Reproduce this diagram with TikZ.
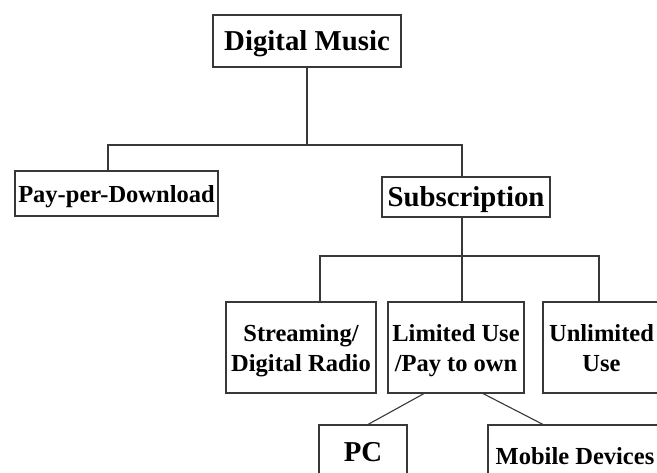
\documentclass[tikz,border=0pt]{standalone}
\usepackage{fontspec}
\setmainfont{Liberation Serif}
\begin{document}
\begin{tikzpicture}[x=1pt,y=-1pt,
  box/.style={draw=black!78, line width=1.1pt, fill=white, inner sep=0pt,
    text depth=0pt,
    font=\bfseries\fontsize{24.5}{30}\selectfont, align=center},
  bigbox/.style={box, font=\bfseries\fontsize{28.8}{34}\selectfont},
  wire/.style={draw=black!78, line width=1.1pt}]
\useasboundingbox (0,0) rectangle (657,472);
\clip (0,0) rectangle (657,472);
\fill[white] (0,0) rectangle (657,472);

% top level
\node[bigbox, minimum width=188pt, minimum height=52pt] (dm) at (307,41) {Digital Music};

% second level
\node[box, minimum width=203pt, minimum height=45pt] (ppd) at (116.5,193.5) {Pay-per-Download};
\node[bigbox, minimum width=168pt, minimum height=40pt] (sub) at (466,197) {Subscription};

% subscription types
\node[box, minimum width=150pt, minimum height=91pt] (str) at (301,347.5) {Streaming/\\Digital Radio};
\node[box, minimum width=136pt, minimum height=91pt] (lim) at (456,347.5) {Limited Use\\/Pay to own};
\node[box, minimum width=117pt, minimum height=91pt] (unl) at (601.5,347.5) {Unlimited\\Use};

% devices
\node[bigbox, minimum width=88pt, minimum height=54pt] (pc) at (363,452) {PC};
\node[box, minimum width=174pt, minimum height=62pt] (mob) at (575,456) {Mobile Devices};

% bus coordinates
\coordinate (b1c) at (307,145);
\coordinate (b1l) at (108,145);
\coordinate (b1r) at (462,145);
\coordinate (b2c) at (462,256);
\coordinate (b2l) at (320,256);
\coordinate (b2r) at (599,256);

% connectors
\draw[wire] (dm.south) -- (dm.south |- b1c);
\draw[wire] (b1l |- ppd.north) -- (b1l) -- (b1r) -- (b1r |- sub.north);
\draw[wire] (b1r |- sub.south) -- (b2c);
\draw[wire] (b2l |- str.north) -- (b2l) -- (b2r) -- (b2r |- unl.north);
\draw[wire] (b2c) -- (b2c |- lim.north);
\draw[wire] ([xshift=-32pt]lim.south) -- ([xshift=5pt]pc.north);
\draw[wire] ([xshift=27pt]lim.south) -- ([xshift=-32pt]mob.north);
\end{tikzpicture}
\end{document}
